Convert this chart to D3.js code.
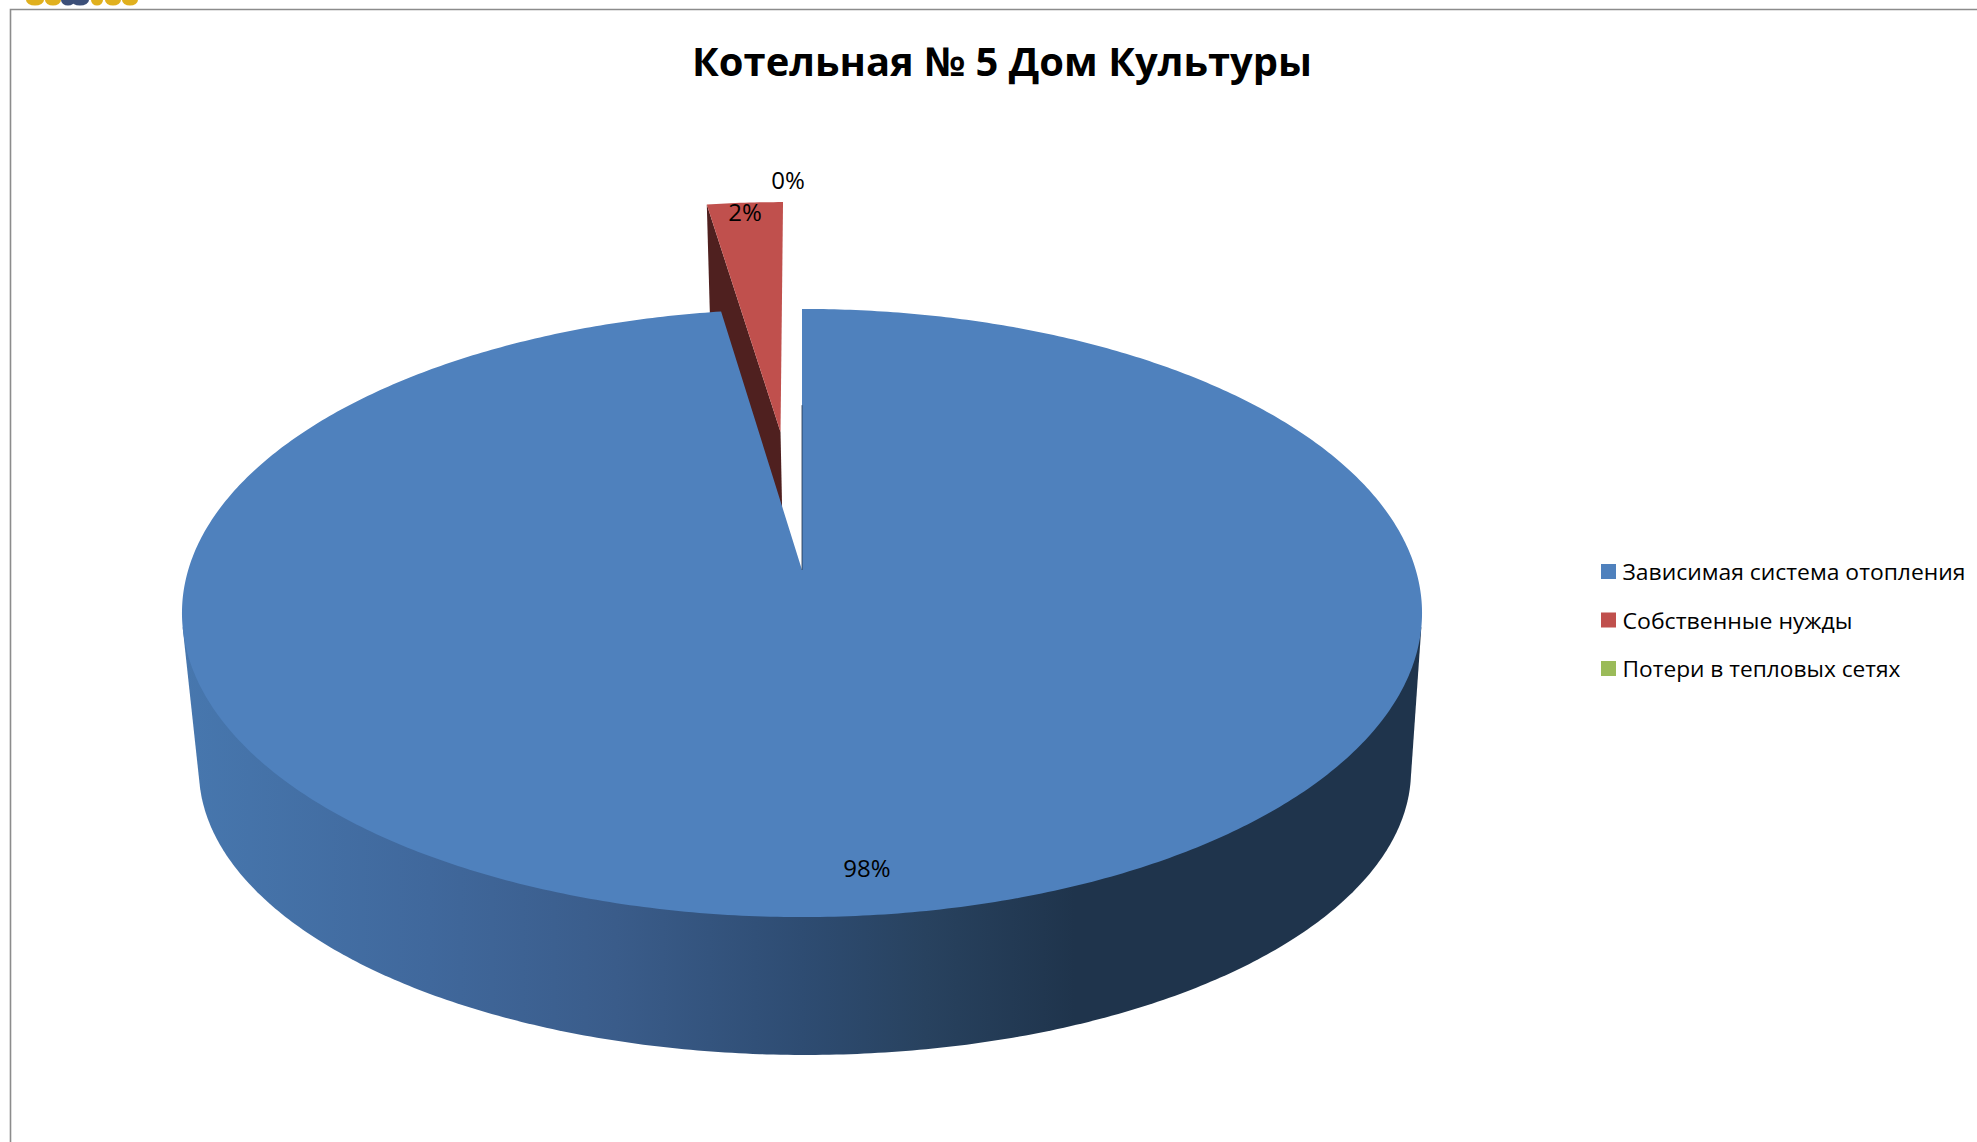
<!DOCTYPE html>
<html lang="ru">
<head>
<meta charset="utf-8">
<title>Котельная № 5 Дом Культуры</title>
<script src="https://cdn.jsdelivr.net/npm/d3@7/dist/d3.min.js"></script>
<style>
  html, body { margin: 0; padding: 0; background: #fff; }
  svg { display: block; }
  text { font-family: "Open Sans", "Noto Sans", "DejaVu Sans", sans-serif; fill: #000; }
</style>
</head>
<body>
<svg id="chart" width="1977" height="1142"></svg>
<script>
// Heat balance of boiler house No. 5
const chartTitle = "Котельная № 5 Дом Культуры";
const categories = ["Зависимая система отопления", "Собственные нужды", "Потери в тепловых сетях"];
const shares = [0.976, 0.024, 0.0];
const sliceColors = ["#4f81bd", "#c0504d", "#9bbb59"];
const innerFaceColors = ["#1f344c", "#4f201f", "#4f6126"];
const explosion = [0, 0.497, 0];

const svg = d3.select("#chart");
const defs = svg.append("defs");

// Perspective projection of the pie: u runs right, v runs towards the viewer.
// Each level is a plane: 0 is the top face, 1 the bottom face.
const planes = [
  { cx: 802, cy: 570, A: 613.8, B: 298 },
  { cx: 805, cy: 730, A: 600, B: 279 }
];
const tilt = 0.1414;
function project(u, v, level) {
  const p = planes[level];
  const w = 1 - tilt * v;
  return [p.cx + p.A * u / w, p.cy + p.B * v / w];
}
const rim = (angle, ox, oy, level) => project(Math.sin(angle) + ox, -Math.cos(angle) + oy, level);
const outline = d3.line();
const stepAngles = (a0, a1) => {
  const n = Math.max(2, Math.ceil(Math.abs(a1 - a0) / 0.01));
  return d3.range(n + 1).map(i => a0 + (a1 - a0) * i / n);
};

const arcs = d3.pie().sort(null).value(d => d)(shares);
const offsetOf = (arc, i) => {
  const mid = (arc.startAngle + arc.endAngle) / 2;
  return [Math.sin(mid) * explosion[i], -Math.cos(mid) * explosion[i]];
};

// Side wall shading runs left to right across the drum.
const wallGradient = defs.append("linearGradient")
  .attr("id", "wall").attr("gradientUnits", "userSpaceOnUse")
  .attr("x1", 182).attr("x2", 1422).attr("y1", 0).attr("y2", 0);
[[0, "#4777ae"], [0.2, "#40689c"], [0.35, "#3a5c8a"], [0.5, "#2e4c72"], [0.6, "#28425f"], [0.72, "#1f344c"], [1, "#1f344c"]]
  .forEach(([o, c]) => wallGradient.append("stop").attr("offset", o).attr("stop-color", c));

// Exploded slice body, drawn first so the main slice overlaps it.
arcs.forEach((arc, i) => {
  if (i === 0 || arc.value === 0) return;
  const [ox, oy] = offsetOf(arc, i);
  svg.append("path")
    .attr("d", outline([
      project(ox, oy, 0), rim(arc.startAngle, ox, oy, 0),
      rim(arc.startAngle, ox, oy, 1), project(ox, oy, 1)
    ]) + "Z")
    .attr("fill", innerFaceColors[i]);
  const face = stepAngles(arc.startAngle, arc.endAngle).map(a => rim(a, ox, oy, 0));
  svg.append("path")
    .attr("d", outline([project(ox, oy, 0), ...face]) + "Z")
    .attr("fill", sliceColors[i]);
});

// Main drum wall: hull of the front halves of both rims.
const frontAngles = stepAngles(Math.PI * 0.56, Math.PI * 1.44);
const wallHull = d3.polygonHull([
  ...frontAngles.map(a => rim(a, 0, 0, 0)),
  ...frontAngles.map(a => rim(a, 0, 0, 1))
]);
svg.append("path").attr("d", outline(wallHull) + "Z").attr("fill", "url(#wall)");

// Main slice top face and the thin visible edge of its cut.
const main = arcs[0];
svg.append("path")
  .attr("d", outline([
    project(0, 0, 0),
    ...stepAngles(main.startAngle, main.endAngle).map(a => rim(a, 0, 0, 0))
  ]) + "Z")
  .attr("fill", sliceColors[0]);
svg.append("path")
  .attr("d", outline([project(0, 0, 0), project(0, -0.6, 0)]))
  .attr("stroke", innerFaceColors[0]).attr("stroke-width", 0.8).attr("fill", "none");

// Frame of the sheet
svg.append("path")
  .attr("d", outline([[10.5, 1142], [10.5, 9.5], [1977, 9.5]]))
  .attr("fill", "none").attr("stroke", "#8c8c8c").attr("stroke-width", 1.6);

// Lower edge of the emblem above the frame
const emblemBits = [
  [35, "#e0b01e", 9], [53, "#e0b01e", 8], [68, "#3c4f78", 7], [80, "#3c4f78", 9],
  [97, "#e0b01e", 6], [113, "#e0b01e", 8], [130, "#e0b01e", 8]
];
svg.append("g").selectAll("ellipse").data(emblemBits).join("ellipse")
  .attr("cx", d => d[0]).attr("cy", 0).attr("rx", d => d[2]).attr("ry", 5.5).attr("fill", d => d[1]);

// Title
svg.append("text")
  .attr("x", 692).attr("y", 76)
  .attr("font-size", 40).attr("font-weight", 700)
  .attr("textLength", 620).attr("lengthAdjust", "spacingAndGlyphs")
  .text(chartTitle);

// Percentage labels
const percent = d3.format(".0%");
const labelAnchors = [[867, 877], [745, 221], [788, 189]];
svg.append("g").selectAll("text").data(shares).join("text")
  .attr("x", (d, i) => labelAnchors[i][0]).attr("y", (d, i) => labelAnchors[i][1])
  .attr("text-anchor", "middle").attr("font-size", 24)
  .text(d => percent(d));

// Legend
const legendRow = d3.scalePoint().domain(categories).range([564, 661]);
const legendWidths = [343, 230, 278];
const legend = svg.append("g").selectAll("g").data(categories).join("g")
  .attr("transform", d => `translate(1601,${legendRow(d)})`);
legend.append("rect").attr("width", 15).attr("height", 15).attr("fill", (d, i) => sliceColors[i]);
legend.append("text")
  .attr("x", 21.5).attr("y", 16).attr("font-size", 22.5)
  .attr("textLength", (d, i) => legendWidths[i]).attr("lengthAdjust", "spacingAndGlyphs")
  .text(d => d);
</script>
</body>
</html>
